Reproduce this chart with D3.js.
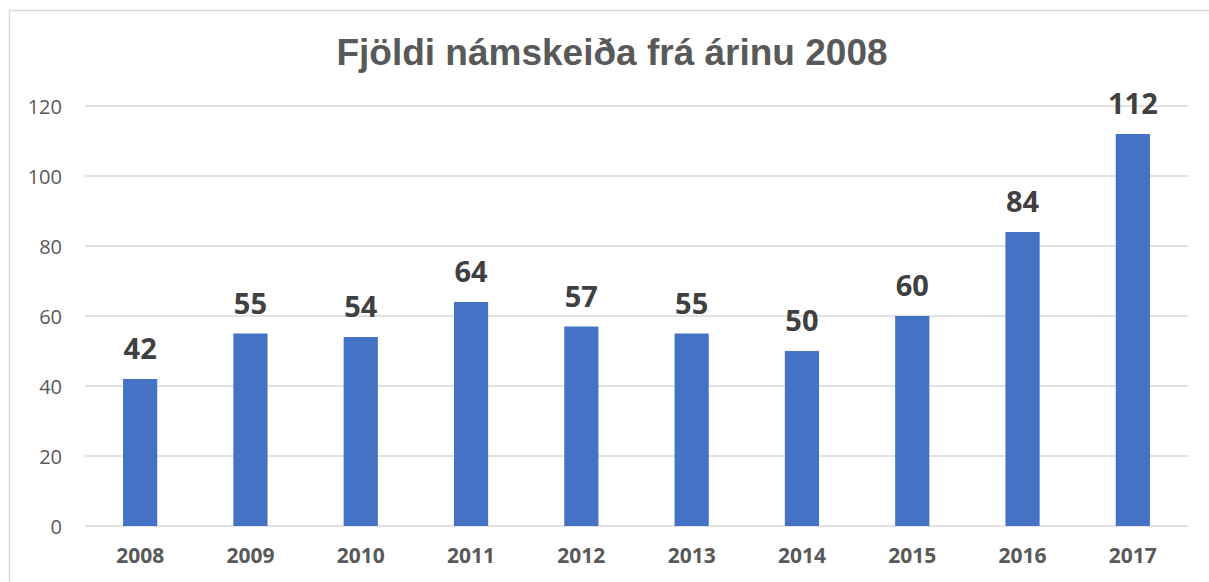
<!DOCTYPE html>
<html>
<head>
<meta charset="utf-8">
<script src="https://cdn.jsdelivr.net/npm/d3@7"></script>
<style>
  body { margin: 0; background: #fff; }
  svg { display: block; }
</style>
</head>
<body>
<script>
// chart data
var years = ["2008", "2009", "2010", "2011", "2012", "2013", "2014", "2015", "2016", "2017"];
var courses = [42, 55, 54, 64, 57, 55, 50, 60, 84, 112];
var yTicks = [0, 20, 40, 60, 80, 100, 120];
var title = "Fjöldi námskeiða frá árinu 2008";

var width = 1209,
    height = 582;

var svg = d3.select("body")
    .append("svg")
    .attr("width", width)
    .attr("height", height);

// chart border (runs past the right and bottom edge)
svg.append("rect")
    .attr("x", 9.5)
    .attr("y", 10.5)
    .attr("width", width + 20)
    .attr("height", height + 20)
    .style("fill", "none")
    .style("stroke", "#d9d9d9")
    .style("stroke-width", 1.5);

var x = d3.scaleBand()
    .domain(years)
    .range([85, 1188])
    .paddingInner(0.69)
    .paddingOuter(0.345);

var y = d3.scaleLinear()
    .domain([0, 120])
    .range([526, 106]);

// gridlines
svg.append("g")
    .selectAll("line")
    .data(yTicks)
    .enter()
    .append("line")
    .attr("x1", 85)
    .attr("x2", 1188)
    .attr("y1", function(d) { return y(d); })
    .attr("y2", function(d) { return y(d); })
    .style("stroke", "#d9d9d9")
    .style("stroke-width", 1.3);

// y axis labels
var yAxis = d3.axisLeft(y).tickValues(yTicks).tickSize(0).tickPadding(0);
var gy = svg.append("g")
    .attr("transform", "translate(62,0)")
    .call(yAxis);
gy.select(".domain").remove();
gy.selectAll("text")
    .attr("dy", "0.36em")
    .style("font-family", "'Open Sans', sans-serif")
    .style("font-size", "20px")
    .style("fill", "#595959");

// x axis labels
var xAxis = d3.axisBottom(x).tickSize(0).tickPadding(0);
var gx = svg.append("g")
    .attr("transform", "translate(0,548)")
    .call(xAxis);
gx.select(".domain").remove();
gx.selectAll("text")
    .attr("dy", "0.72em")
    .style("font-family", "'Open Sans', sans-serif")
    .style("font-weight", "bold")
    .style("font-size", "21px")
    .style("fill", "#595959");

// bars
svg.append("g")
    .selectAll("rect")
    .data(courses)
    .enter()
    .append("rect")
    .attr("x", function(d, i) { return x(years[i]); })
    .attr("y", function(d) { return y(d); })
    .attr("width", x.bandwidth())
    .attr("height", function(d) { return y(0) - y(d); })
    .style("fill", "#4472c4");

// value labels
svg.append("g")
    .selectAll("text")
    .data(courses)
    .enter()
    .append("text")
    .attr("x", function(d, i) { return x(years[i]) + x.bandwidth() / 2; })
    .attr("y", function(d) { return y(d) - 20; })
    .attr("text-anchor", "middle")
    .style("font-family", "'Open Sans', sans-serif")
    .style("font-weight", "bold")
    .style("font-size", "29px")
    .style("fill", "#404040")
    .text(function(d) { return d; });

// title
svg.append("text")
    .attr("x", 612)
    .attr("y", 65)
    .attr("text-anchor", "middle")
    .style("font-family", "'Liberation Sans', Arial, sans-serif")
    .style("font-weight", "bold")
    .style("font-size", "37px")
    .style("fill", "#595959")
    .text(title);
</script>
</body>
</html>
